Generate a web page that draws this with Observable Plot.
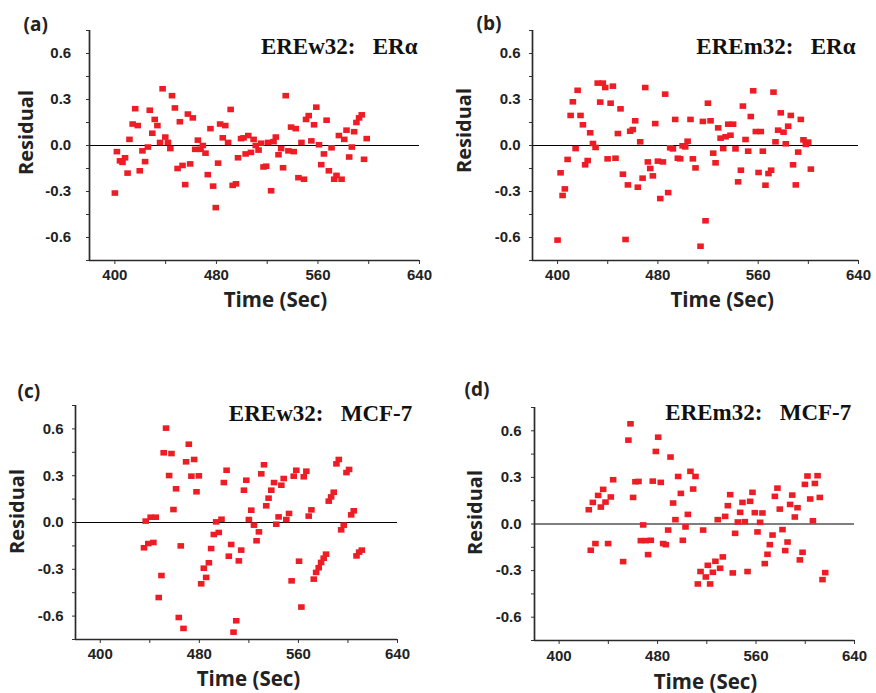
<!DOCTYPE html>
<html><head><meta charset="utf-8">
<script src="https://cdn.jsdelivr.net/npm/d3@7"></script>
<script src="https://cdn.jsdelivr.net/npm/@observablehq/plot@0.6"></script>
<style>
body{margin:0;background:#fff;}
#chart{position:relative;width:876px;height:693px;background:#fff;overflow:hidden;}
#chart svg{position:absolute;overflow:visible;}
</style></head><body><div id="chart"></div>
<script>
// ---- tick values and labels ----
const xTickValues = [400, 440, 480, 520, 560, 600, 640];
const xTickLabels = ["400", "480", "560", "640"];
const yTickValues = [-0.75, -0.6, -0.45, -0.3, -0.15, 0, 0.15, 0.3, 0.45, 0.6, 0.75];
const yTickLabels = ["-0.6", "-0.3", "0.0", "0.3", "0.6"];
const panelLetters = ["(a)", "(b)", "(c)", "(d)"];
const panelTitles = ["EREw32:\u00a0\u00a0\u00a0ERα", "EREm32:\u00a0\u00a0\u00a0ERα",
                     "EREw32:\u00a0\u00a0\u00a0MCF-7", "EREm32:\u00a0\u00a0\u00a0MCF-7"];
const xTitle = "Time (Sec)";
const yTitle = "Residual";

// ---- panel (a) ----
const timeA = [400,401.6,404,406,408,410,411.5,414,416,418,
  419.6,421.7,423.8,426,427.5,429.5,431.4,433.5,435.6,437.6,
  439.7,441.8,443.7,445,447.3,449.4,451.2,453.3,455.4,457.5,
  459.3,461.4,463.3,465.4,467.5,469.3,471.4,473.2,475.3,477.4,
  479.5,481.3,482.9,485,487,489.2,491.2,492.8,495.4,497,
  499.4,501.4,503,505.1,507.2,509.3,511,513.2,515.3,517.1,
  519.2,520.8,523.1,525,526.8,528.9,531,532.5,534.6,536.7,
  538.8,540.9,542.5,544.6,547,549,550.6,552.7,554.8,556.9,
  558.7,560.8,562.6,564.7,566.8,568.6,570.7,572.8,574.6,576.5,
  578.6,580.7,582.5,584.6,586.7,588.5,590.3,592.4,594.5,596.3,
  598.4];
const residA = [-0.31,-0.04,-0.10,-0.11,-0.08,-0.18,0.04,0.14,0.24,0.13,
  -0.165,-0.035,-0.105,-0.01,0.23,0.08,0.17,0.13,0.02,0.37,
  0.055,0.02,-0.02,0.325,0.245,-0.15,0.155,-0.13,-0.255,0.205,
  -0.12,0.18,-0.025,0.035,-0.025,0.0,-0.05,-0.19,0.11,-0.265,
  -0.405,-0.115,0.14,0.05,0.13,0.02,0.235,-0.26,-0.25,-0.08,
  0.045,0.05,-0.055,0.065,-0.045,0.04,0.0,-0.03,0.015,-0.14,
  -0.135,0.02,-0.295,0.025,0.055,-0.06,-0.02,-0.145,0.325,-0.035,
  0.12,-0.04,0.11,-0.21,0.02,-0.22,0.17,0.195,0.03,0.135,
  0.25,0.005,-0.125,-0.055,0.165,-0.165,-0.015,-0.22,-0.195,0.065,
  -0.22,0.04,0.10,-0.075,-0.01,0.09,0.15,0.18,0.20,-0.09,
  0.045];

// ---- panel (b) ----
const timeB = [400,402.4,404,405.8,408,410.4,412.2,414.4,416,418.3,
  420.2,422,424,426,428.2,430.3,432,434,436.1,438,
  439.9,442.3,444.1,446.2,448.1,450.2,452.1,454.2,456.1,457.9,
  460,461.9,464,465.9,467.8,469.9,472,473.9,476,477.9,
  480,481.9,484,485.8,488.2,489.8,492,493.8,495.9,497.8,
  499.7,501.8,503.7,506,507.9,510,514,515.9,518,519.9,
  522,524.1,526,528.1,530,532.1,534,536.1,537.9,540,
  541.9,544,546.2,547.8,549.9,552,554.1,556,558.1,560.3,
  562.1,563.7,565.8,568.2,570.3,572.2,573.8,575.9,578,580.2,
  582,583.9,586,587.8,590,591.9,594,596.1,598,599.9,
  602];
const residB = [-0.617,-0.178,-0.326,-0.283,-0.091,0.196,0.285,-0.02,0.36,0.196,
  0.135,-0.126,-0.098,0.083,0.013,-0.013,0.407,0.283,0.407,0.378,
  -0.087,0.276,0.387,-0.083,0.078,0.239,-0.187,-0.613,-0.257,0.093,
  0.104,0.161,-0.272,0.024,-0.213,0.378,-0.107,-0.15,-0.198,0.143,
  -0.102,-0.346,-0.107,0.335,-0.307,-0.015,-0.022,0.17,-0.083,-0.087,
  -0.002,-0.009,0.028,0.17,-0.087,-0.146,-0.657,0.157,-0.491,0.276,
  0.161,-0.05,-0.113,0.115,0.048,-0.02,0.057,0.139,0.067,0.139,
  -0.022,-0.237,-0.161,0.257,0.039,-0.037,0.189,0.357,0.091,-0.176,
  0.091,-0.037,-0.259,-0.183,-0.161,0.348,0.024,0.1,0.213,0.087,
  0.011,0.126,0.196,-0.126,-0.257,-0.043,0.17,0.037,0.007,0.022,
  -0.154];

// ---- panel (c) ----
const timeC = [435.3,436.7,438.8,440.7,442.9,444.8,447.2,449.4,451.2,453.1,
  455.6,457.5,459.1,461.2,463.4,465,467.2,469.3,471.5,473.6,
  475.8,477.7,479.6,481.5,483.6,485.5,487.7,489.5,491.7,493.6,
  495.7,497.9,499.8,502,503.8,505.7,507.6,509.8,511.9,513.8,
  516,517.9,520,521.9,524.1,526.2,528.1,530,532.2,534,
  535.9,538.1,540.3,542.1,544,546.2,548.1,550.2,552.4,554.5,
  556.2,558.3,560.5,562.4,564.3,566.4,568.3,570.5,572.4,574.3,
  576.4,578.3,580.4,582.3,584.5,586.4,588.5,590.7,592.6,594.5,
  596.6,598.8,600.9,602.6,604.7,606.9,609,611.2];
const residC = [-0.162,0.009,-0.135,0.034,-0.128,0.034,-0.481,-0.34,0.447,0.605,
  0.301,0.442,0.083,0.216,-0.609,-0.15,-0.679,0.389,0.502,0.297,
  0.404,0.197,0.299,-0.393,-0.293,-0.352,-0.258,-0.167,-0.077,0.004,
  -0.064,0.021,0.256,0.335,-0.216,-0.141,-0.703,-0.63,-0.246,-0.177,
  0.207,0.271,0.019,0.079,-0.017,-0.117,-0.06,0.312,0.37,0.107,
  0.156,0.207,0.256,-0.011,0.036,0.239,0.282,0.019,0.058,-0.374,
  0.297,0.335,-0.248,-0.542,0.293,0.329,0.041,0.081,-0.363,-0.32,
  -0.29,-0.256,-0.229,-0.203,0.137,0.164,0.194,0.376,0.404,-0.047,
  -0.017,0.32,0.34,0.049,0.075,-0.214,-0.19,-0.177];

// ---- panel (d) ----
const timeD = [424.1,425.7,427.4,429.5,431.7,433.9,435.8,437.7,439.8,442,
  443.9,452,456.3,458,460.1,462,464.5,466.4,468.3,470.4,
  472.3,474.5,476.1,478.6,480.5,482.6,484.5,486.7,488.6,490.5,
  492.6,494.5,496.7,498.9,500.5,502.7,504.6,506.7,508.9,510.8,
  512.7,514.9,517,519.2,520.8,522.7,524.9,527,528.9,530.8,
  533,534.9,537.1,539,541.1,543,545.2,547.1,549,550.9,
  553.1,555.2,557.1,559,561.2,563.3,565.2,567.1,569.3,571.2,
  573.4,575.3,577.4,579.3,581.5,583.7,585.6,587.7,589.4,591.5,
  593.7,595.6,597.8,599.7,601.8,604,606.2,607.8,610,611.8,
  614,616.2];
const residD = [0.092,-0.169,0.139,-0.126,0.184,0.109,0.223,0.141,-0.126,0.174,
  0.285,-0.242,0.54,0.645,0.171,0.272,0.274,-0.107,-0.006,-0.107,
  -0.197,-0.105,0.276,0.467,0.559,0.268,-0.126,-0.133,-0.039,0.431,
  0.135,0.028,0.306,0.197,-0.105,-0.019,0.062,0.339,0.225,0.306,
  -0.386,-0.306,-0.039,-0.341,-0.266,-0.386,-0.311,-0.24,0.028,-0.285,
  -0.212,0.049,0.118,0.189,-0.315,-0.06,0.013,0.075,0.139,0.015,
  -0.306,0.146,0.204,0.073,-0.051,0.011,0.071,-0.255,-0.195,-0.133,
  -0.071,0.178,0.231,0.096,-0.036,-0.171,-0.116,0.126,0.186,0.045,
  0.105,-0.231,-0.182,0.255,0.309,0.161,0.021,0.261,0.311,0.171,
  -0.358,-0.313];

// ---- layout / style ----
const RED = "#ee1c25";
const INK = "#222";
const sansBold = "'Open Sans', 'DejaVu Sans', sans-serif";
const tickFont = "'Liberation Sans', Arial, sans-serif";
const serif = "'Liberation Serif', 'Times New Roman', serif";
const rectSymbol = {draw(ctx) { ctx.rect(-3.3, -2.8, 6.6, 5.6); }};

const panels = [
  {t: timeA, r: residA, left: 0, top: 0, width: 438, height: 320, mL: 89, mR: 19, mT: 30, mB: 60,
   yPad: 15.3, xPad: 4.5, letter: [-66, 0], title: [-2, 23], ylab: [-63, -13], xlab: [21, 46]},
  {t: timeB, r: residB, left: 438, top: 0, width: 438, height: 320, mL: 94, mR: 18, mT: 30, mB: 60,
   yPad: 9, xPad: 4.5, letter: [-56, -0.5], title: [-3, 23], ylab: [-68, -15], xlab: [26.7, 46]},
  {t: timeC, r: residC, left: 0, top: 370, width: 438, height: 323, mL: 75, mR: 41, mT: 35, mB: 54,
   yPad: 9, xPad: 4.5, letter: [-58, -8], title: [14.7, 15], ylab: [-58, -11], xlab: [12, 46.5]},
  {t: timeD, r: residD, left: 438, top: 370, width: 438, height: 323, mL: 96, mR: 22, mT: 37, mB: 53,
   yPad: 10, xPad: 5.5, letter: [-70, -12], title: [-3.3, 12], ylab: [-59, -11.5], xlab: [11, 48]}
];

const xFmt = d => xTickLabels.includes(String(d)) ? String(d) : "";
const yFmt = d => { const s = (Math.abs(d) < 1e-9 ? 0 : d).toFixed(1); return yTickLabels.includes(s) ? s : ""; };

const chart = document.getElementById("chart");
panels.forEach((p, i) => {
  const data = p.t.map((t, k) => ({time: t, resid: p.r[k]}));
  const svg = Plot.plot({
    width: p.width, height: p.height,
    marginLeft: p.mL, marginRight: p.mR, marginTop: p.mT, marginBottom: p.mB,
    x: {domain: [380, 640]},
    y: {domain: [-0.75, 0.75]},
    style: {fontFamily: tickFont, fontSize: "15px", fontWeight: "bold", color: INK, background: "transparent", overflow: "visible"},
    marks: [
      Plot.axisY({ticks: yTickValues, tickFormat: yFmt, tickSize: 3, tickPadding: p.yPad, label: null,
                  fontSize: 15, fontWeight: "bold", fontFamily: tickFont, stroke: "#333", fill: INK}),
      Plot.axisX({ticks: xTickValues, tickFormat: xFmt, tickSize: 4, tickPadding: p.xPad, label: null,
                  fontSize: 15, fontWeight: "bold", fontFamily: tickFont, stroke: "#333", fill: INK}),
      Plot.ruleY([0], {stroke: "#000", strokeWidth: 1.2}),
      Plot.ruleX([380], {stroke: "#2a2a2a", strokeWidth: 1.7}),
      Plot.ruleY([-0.75], {stroke: "#2a2a2a", strokeWidth: 1.7}),
      Plot.dot(data, {x: "time", y: "resid", symbol: rectSymbol, r: 3.3, fill: RED}),
      Plot.text([panelTitles[i]], {frameAnchor: "top-right", textAnchor: "end", lineAnchor: "bottom",
                dx: p.title[0], dy: p.title[1], fontFamily: serif, fontSize: 23, fontWeight: "bold", fill: "#111"}),
      Plot.text([panelLetters[i]], {frameAnchor: "top-left", textAnchor: "start", lineAnchor: "bottom",
                dx: p.letter[0], dy: p.letter[1], fontFamily: sansBold, fontSize: 19, fontWeight: "bold", fill: INK}),
      Plot.text([yTitle], {frameAnchor: "left", textAnchor: "middle", lineAnchor: "middle", rotate: -90,
                dx: p.ylab[0], dy: p.ylab[1], fontFamily: sansBold, fontSize: 20, fontWeight: "bold", fill: INK}),
      Plot.text([xTitle], {frameAnchor: "bottom", textAnchor: "middle", lineAnchor: "bottom",
                dx: p.xlab[0], dy: p.xlab[1], fontFamily: sansBold, fontSize: 20.5, fontWeight: "bold", fill: INK})
    ]
  });
  svg.style.left = p.left + "px";
  svg.style.top = p.top + "px";
  chart.appendChild(svg);
});
</script>
</body></html>
